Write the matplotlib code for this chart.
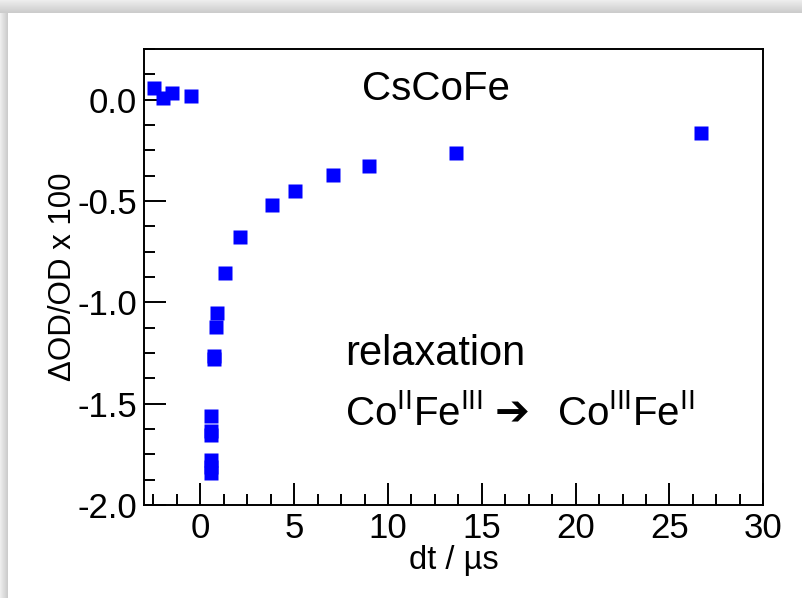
import numpy as np
import matplotlib
matplotlib.use("Agg")
import matplotlib.pyplot as plt
from matplotlib.ticker import MultipleLocator

plt.rcParams['font.family'] = ['Liberation Sans', 'DejaVu Sans']
plt.rcParams['mathtext.fontset'] = 'custom'
plt.rcParams['mathtext.rm'] = 'Liberation Sans'

# data
dt = [-2.48, -2.0, -1.50, -0.50,
      0.55, 0.55, 0.55, 0.58, 0.58, 0.59,
      0.71, 0.71, 0.83, 0.89, 1.32,
      2.12, 3.80, 5.03, 7.05, 9.0, 13.6, 26.7]
dod = [0.056, 0.007, 0.032, 0.020,
       -1.840, -1.81, -1.778, -1.653, -1.636, -1.559,
       -1.281, -1.266, -1.123, -1.054, -0.856,
       -0.679, -0.521, -0.450, -0.370, -0.329, -0.264, -0.166]

fig = plt.figure(figsize=(8.03, 5.98), dpi=100)

# grey shadow frame around the white panel
bg = np.ones((598, 803, 3))
top = np.linspace(0.93, 0.80, 13)
bg[:13, :, :] = top[:, None, None]
left = np.linspace(0.93, 0.80, 8)
bg[13:, :8, :] = left[None, :, None]
fig.figimage(bg, 0, 0, origin='upper', zorder=-10)

ax = fig.add_axes([0.1793, 0.1555, 0.7713, 0.7626])
ax.patch.set_alpha(0)

ax.plot(dt, dod, 's', color='#0000ff', ms=9.5, mec='none')

ax.set_xlim(-3, 30)
ax.set_ylim(-2.0, 0.25)
ax.xaxis.set_minor_locator(MultipleLocator(1.25))
ax.yaxis.set_minor_locator(MultipleLocator(0.125))
ax.set_yticks([0.0, -0.5, -1.0, -1.5, -2.0])
ax.set_yticklabels(['0.0', '-0.5', '-1.0', '-1.5', '-2.0'])
ax.set_xticks([0, 5, 10, 15, 20, 25, 30])

ax.tick_params(which='both', direction='in', top=False, right=False,
               width=1.4, labelsize=25)
ax.tick_params(which='major', length=16, pad=5)
ax.tick_params(which='minor', length=8)
for s in ax.spines.values():
    s.set_linewidth(1.4)

ax.set_xlabel('dt / µs', fontsize=23.5, labelpad=0)
ax.set_ylabel('ΔOD/OD x 100', fontsize=22.5)
ax.yaxis.set_label_coords(-0.106, 0.5)

ax.text(8.6, 0.0, 'CsCoFe', fontsize=29)
ax.text(7.7, -1.31, 'relaxation', fontsize=30)
ax.text(7.7, -1.605, r'Co$^{\mathrm{II}}$Fe$^{\mathrm{III}}$', fontsize=29)
ax.text(16.6, -1.55, '➔', fontsize=30, ha='center', va='center',
        family=['DejaVu Sans'])
ax.text(19.0, -1.605, r'Co$^{\mathrm{III}}$Fe$^{\mathrm{II}}$', fontsize=29)

fig.savefig('out.png', dpi=100)
